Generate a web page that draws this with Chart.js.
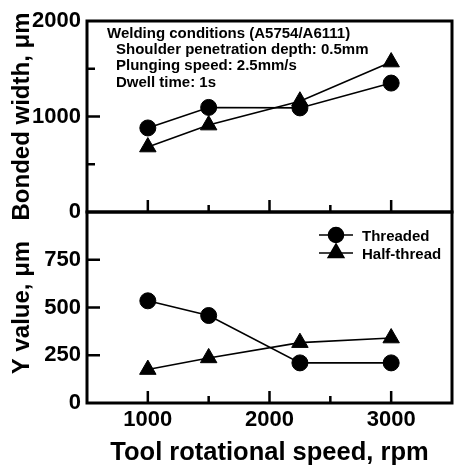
<!DOCTYPE html>
<html>
<head>
<meta charset="utf-8">
<script src="https://cdn.jsdelivr.net/npm/chart.js@4.4.0/dist/chart.umd.min.js"></script>
<style>
  html, body { margin: 0; padding: 0; background: #fff; }
  #wrap { position: relative; width: 454px; height: 466px; }
  canvas { position: absolute; left: 0; top: 0; }
</style>
</head>
<body>
<div id="wrap">
  <canvas id="widthChart" width="454" height="466"></canvas>
  <canvas id="yValueChart" width="454" height="466"></canvas>
</div>
<script>
// tool rotational speed (rpm)
const speeds = [1000, 1500, 2250, 3000];
// bonded width, um
const widthThreaded = [880, 1095, 1090, 1350];
const widthHalfThread = [680, 910, 1160, 1570];
// Y value, um
const yThreaded = [535, 458, 210, 210];
const yHalfThread = [175, 236, 316, 340];

const xLabelTicks = [1000, 2000, 3000];
const widthLabelTicks = [0, 1000, 2000];
const yValueLabelTicks = [0, 250, 500, 750];

const conditionTitle = 'Welding conditions (A5754/A6111)';
const conditionLines = ['Shoulder penetration depth: 0.5mm', 'Plunging speed: 2.5mm/s', 'Dwell time: 1s'];

const FONT = '"Liberation Sans", Arial, Helvetica, sans-serif';

function points(ys) {
    return speeds.map((s, i) => ({ x: s, y: ys[i] }));
}

function series(label, ys, style) {
    return {
        label: label,
        data: points(ys),
        borderColor: '#000',
        backgroundColor: '#000',
        borderWidth: 1.6,
        pointStyle: style,
        pointRadius: style === 'triangle' ? 9.5 : 8,
        pointBackgroundColor: '#000',
        pointBorderColor: '#000',
        pointBorderWidth: 1,
        tension: 0
    };
}

// box round the plot area, ticks pointing inward
function framePlugin(xMajor, yMajor) {
    return {
        id: 'frame',
        afterDraw(chart) {
            const ctx = chart.ctx;
            const a = chart.chartArea;
            const xs = chart.scales.x, ys = chart.scales.y;
            ctx.save();
            ctx.strokeStyle = '#000';
            ctx.lineWidth = 3;
            ctx.strokeRect(a.left, a.top, a.right - a.left, a.bottom - a.top);
            ctx.lineWidth = 2.5;
            ctx.beginPath();
            xs.ticks.forEach(t => {
                if (t.value <= xs.min || t.value >= xs.max) return;
                const px = xs.getPixelForValue(t.value);
                const len = xMajor.includes(t.value) ? 12 : 7;
                ctx.moveTo(px, a.bottom);
                ctx.lineTo(px, a.bottom - len);
            });
            ys.ticks.forEach(t => {
                if (t.value <= ys.min || t.value >= ys.max) return;
                const py = ys.getPixelForValue(t.value);
                const len = yMajor.includes(t.value) ? 13 : 8;
                ctx.moveTo(a.left, py);
                ctx.lineTo(a.left + len, py);
            });
            ctx.stroke();
            ctx.restore();
        }
    };
}

const conditionsPlugin = {
    id: 'conditions',
    afterDraw(chart) {
        const ctx = chart.ctx;
        const a = chart.chartArea;
        ctx.save();
        ctx.fillStyle = '#000';
        ctx.font = 'bold 15px ' + FONT;
        ctx.textBaseline = 'alphabetic';
        ctx.textAlign = 'left';
        ctx.fillText(conditionTitle, a.left + 20, a.top + 17);
        conditionLines.forEach((line, i) => {
            ctx.fillText(line, a.left + 29, a.top + 33 + i * 16.3);
        });
        ctx.restore();
    }
};

const lineLegendPlugin = {
    id: 'lineLegend',
    afterDraw(chart) {
        const ctx = chart.ctx;
        const a = chart.chartArea;
        ctx.save();
        chart.data.datasets.forEach((ds, i) => {
            const y = a.top + 23 + i * 18;
            const cx = a.right - 116;
            ctx.strokeStyle = '#000';
            ctx.fillStyle = '#000';
            ctx.lineWidth = 1.6;
            ctx.beginPath();
            ctx.moveTo(a.right - 133, y);
            ctx.lineTo(a.right - 99, y);
            ctx.stroke();
            Chart.helpers.drawPoint(ctx, {
                pointStyle: ds.pointStyle,
                radius: ds.pointStyle === 'triangle' ? 9 : 7.5,
                rotation: 0,
                borderWidth: 1
            }, cx, y);
            ctx.font = 'bold 15px ' + FONT;
            ctx.textBaseline = 'alphabetic';
            ctx.textAlign = 'left';
            ctx.fillText(ds.label, a.right - 90, y + 6);
        });
        ctx.restore();
    }
};

function yScale(min, max, step, labelTicks, title) {
    return {
        type: 'linear',
        min: min,
        max: max,
        afterFit(scale) { scale.width = 87; },
        grid: { display: false, drawTicks: false },
        border: { display: false },
        ticks: {
            stepSize: step,
            autoSkip: false,
            padding: 6,
            color: '#000',
            font: { family: FONT, size: 22, weight: 'bold' },
            callback: v => labelTicks.includes(v) ? String(v) : ''
        },
        title: {
            display: true,
            text: title,
            color: '#000',
            font: { family: FONT, size: 24, weight: 'bold', lineHeight: 1 },
            padding: { top: 10, bottom: 0 }
        }
    };
}

new Chart(document.getElementById('widthChart'), {
    type: 'line',
    data: {
        datasets: [
            series('Threaded', widthThreaded, 'circle'),
            series('Half-thread', widthHalfThread, 'triangle')
        ]
    },
    options: {
        responsive: false,
        animation: false,
        events: [],
        layout: { autoPadding: false, padding: { left: 0, top: 21, right: 2, bottom: 254 } },
        scales: {
            x: {
                type: 'linear',
                min: 500,
                max: 3500,
                afterFit(scale) { scale.height = 0; scale.paddingLeft = 0; scale.paddingRight = 0; },
                grid: { display: false, drawTicks: false },
                border: { display: false },
                ticks: { stepSize: 500, autoSkip: false, display: false }
            },
            y: yScale(0, 2000, 500, widthLabelTicks, 'Bonded width, μm')
        },
        plugins: {
            legend: { display: false },
            tooltip: { enabled: false }
        }
    },
    plugins: [framePlugin(xLabelTicks, widthLabelTicks), conditionsPlugin]
});

new Chart(document.getElementById('yValueChart'), {
    type: 'line',
    data: {
        datasets: [
            series('Threaded', yThreaded, 'circle'),
            series('Half-thread', yHalfThread, 'triangle')
        ]
    },
    options: {
        responsive: false,
        animation: false,
        events: [],
        layout: { autoPadding: false, padding: { left: 0, top: 212, right: 2, bottom: 0 } },
        scales: {
            x: {
                type: 'linear',
                min: 500,
                max: 3500,
                afterFit(scale) { scale.height = 63; scale.paddingLeft = 0; scale.paddingRight = 0; },
                grid: { display: false, drawTicks: false },
                border: { display: false },
                ticks: {
                    stepSize: 500,
                    autoSkip: false,
                    maxRotation: 0,
                    padding: 4,
                    color: '#000',
                    font: { family: FONT, size: 22, weight: 'bold' },
                    callback: v => xLabelTicks.includes(v) ? String(v) : ''
                },
                title: {
                    display: true,
                    text: 'Tool rotational speed, rpm',
                    color: '#000',
                    font: { family: FONT, size: 25.5, weight: 'bold', lineHeight: 1 },
                    padding: { top: 0, bottom: 0 }
                }
            },
            y: yScale(0, 1000, 250, yValueLabelTicks, 'Y value, μm')
        },
        plugins: {
            legend: { display: false },
            tooltip: { enabled: false }
        }
    },
    plugins: [framePlugin(xLabelTicks, yValueLabelTicks), lineLegendPlugin]
});
</script>
</body>
</html>
